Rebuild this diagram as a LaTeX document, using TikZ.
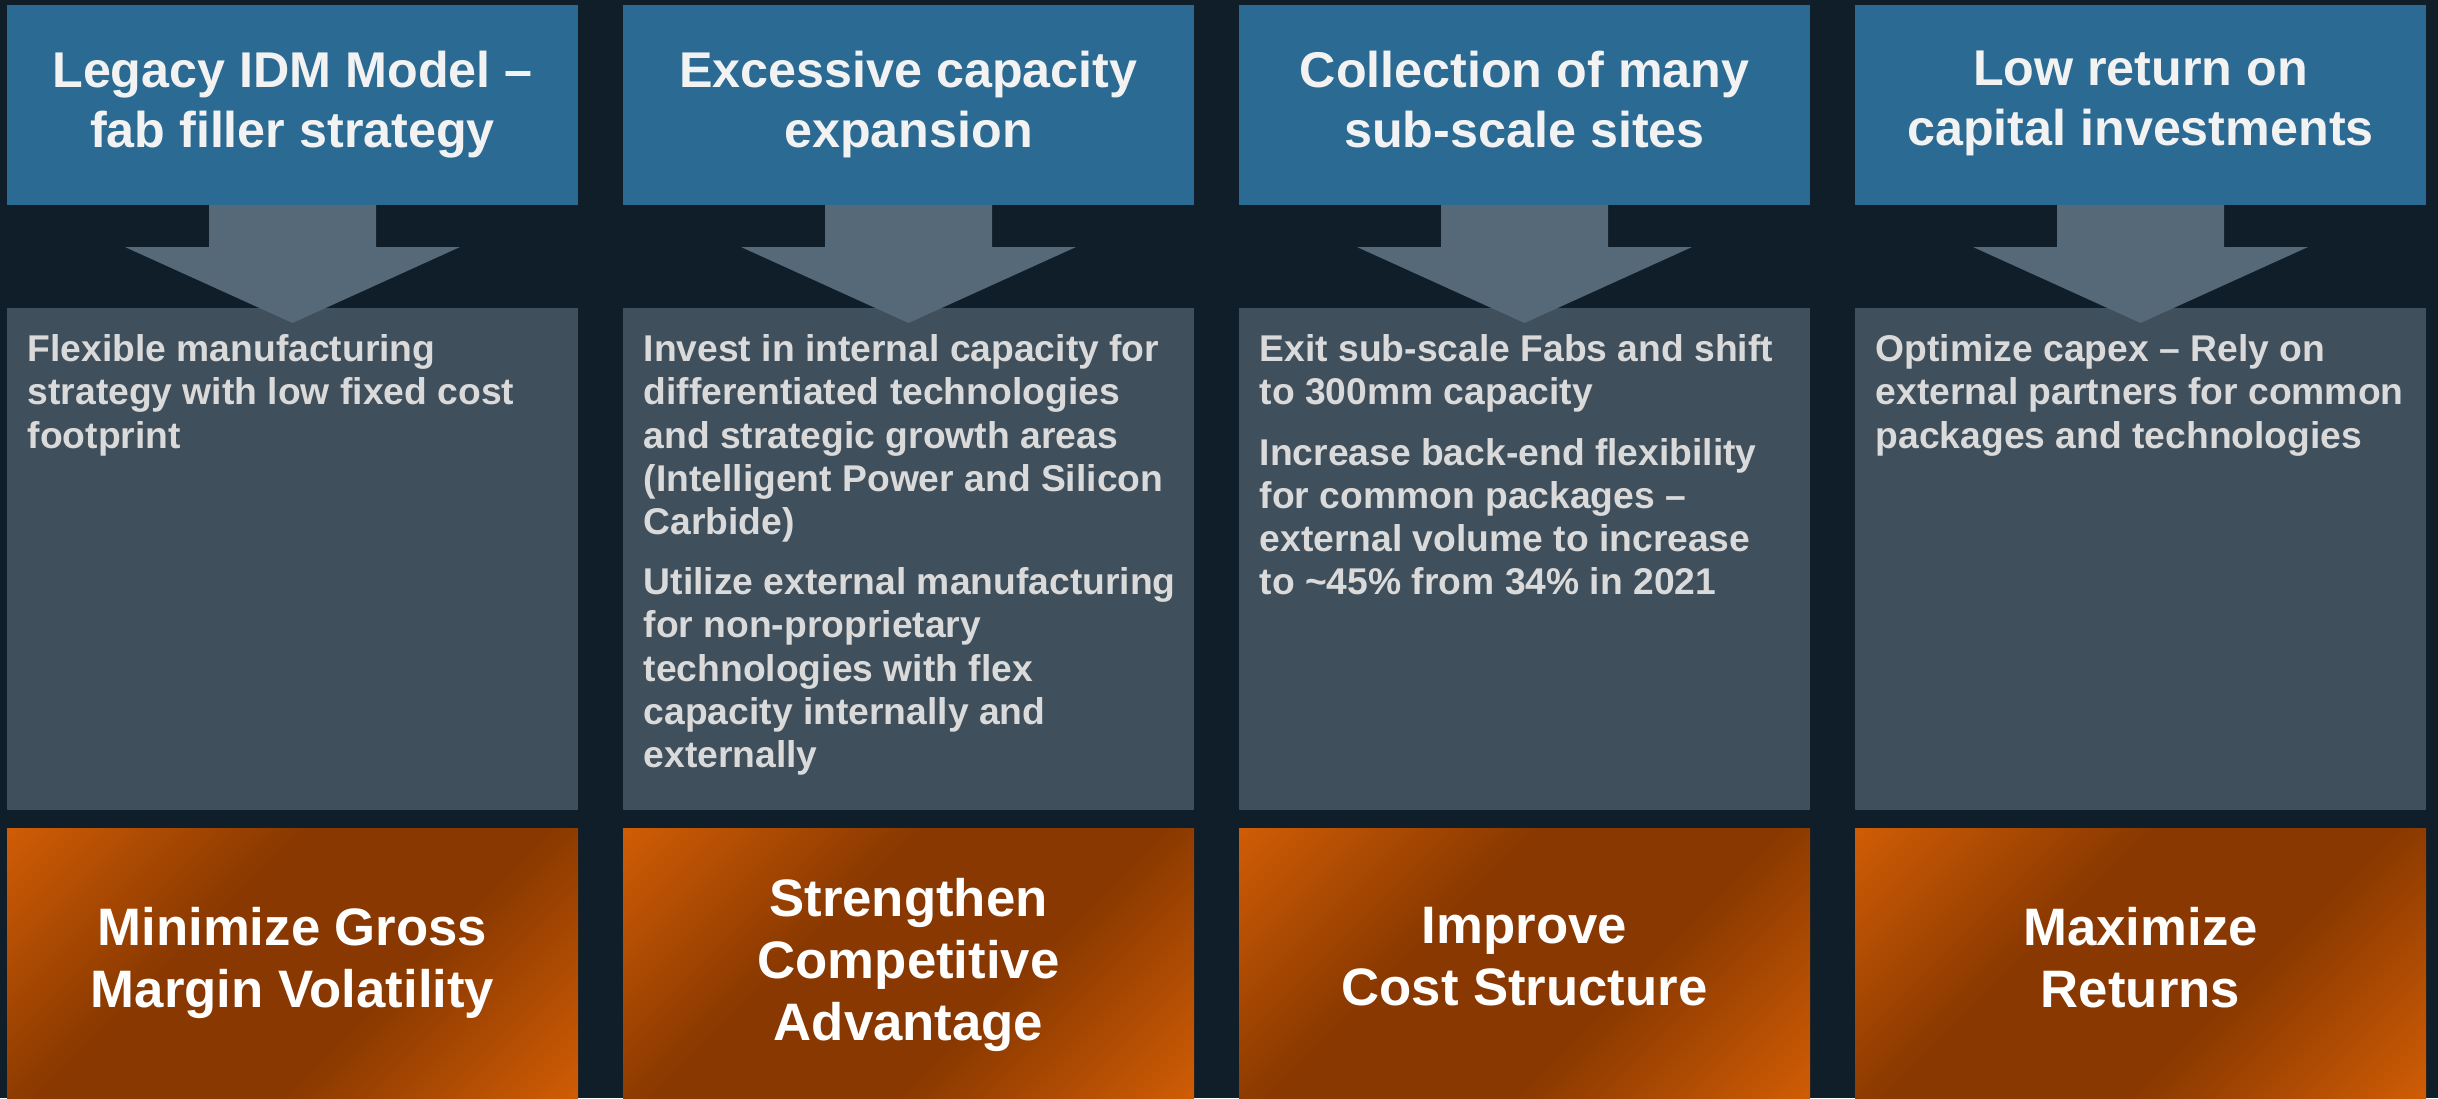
\documentclass[tikz,border=0pt]{standalone}
\usepackage{fontspec}
\setmainfont{Liberation Sans}
\usetikzlibrary{positioning,calc}
\definecolor{pagebg}{HTML}{0F1E28}
\definecolor{headblue}{HTML}{2A6A93}
\definecolor{bodygray}{HTML}{3F4F5B}
\definecolor{arrowgray}{HTML}{566979}
\definecolor{bodytext}{HTML}{DADADA}
\definecolor{headtext}{HTML}{F2F2F2}
\definecolor{goallight}{HTML}{CF5C05}
\definecolor{goaldark}{HTML}{883800}
\pgfdeclareverticalshading{goalband}{100bp}{color(0bp)=(goallight); color(15bp)=(goallight); color(40bp)=(goaldark); color(60bp)=(goaldark); color(85bp)=(goallight); color(100bp)=(goallight)}

\begin{document}
\begin{tikzpicture}[
    x=0.1mm, y=0.1mm,
    node distance=4.5mm,
    panel/.style={rectangle, inner sep=0pt, outer sep=0pt, minimum width=57.1mm},
    headbox/.style={panel, fill=headblue, minimum height=20mm},
    bodybox/.style={panel, fill=bodygray, minimum height=50.2mm},
    goalbox/.style={panel, shade, shading=goalband, shading angle=45, minimum height=27mm},
    headtxt/.style={inner sep=0pt, align=center, text=headtext, font=\fontsize{14.3}{17.1}\selectfont\bfseries},
    bodytxt/.style={inner sep=0pt, align=left, text=bodytext, font=\fontsize{10.6}{12.3}\selectfont\bfseries},
    goaltxt/.style={inner sep=0pt, align=center, text=white, font=\fontsize{15}{17.6}\selectfont\bfseries},
    blockarrow/.style={fill=arrowgray}
]
    \fill[pagebg] (0,0) rectangle (2438,-1098);
    \useasboundingbox (0,0) rectangle (2438,-1098);

    \node[headbox] (legacy) at (292.5,-105) {};
    \node[headbox, right=of legacy] (expansion) {};
    \node[headbox, right=of expansion] (subscale) {};
    \node[headbox, right=of subscale] (lowreturn) {};

    \node[bodybox, below=10.3mm of legacy] (flexible) {};
    \node[bodybox, below=10.3mm of expansion] (invest) {};
    \node[bodybox, below=10.3mm of subscale] (exitfabs) {};
    \node[bodybox, below=10.3mm of lowreturn] (optimize) {};

    \node[goalbox, below=1.8mm of flexible] (minimize) {};
    \node[goalbox, below=1.8mm of invest] (strengthen) {};
    \node[goalbox, below=1.8mm of exitfabs] (improve) {};
    \node[goalbox, below=1.8mm of optimize] (maximize) {};

    \foreach \h in {legacy, expansion, subscale, lowreturn}
        \fill[blockarrow] ($(\h.south)+(-83.5,0)$) -- ++(167,0) -- ++(0,-42) -- ++(84,0)
            -- ($(\h.south)+(0,-118)$) -- ($(\h.south)+(-167.5,-42)$) -- ++(84,0) -- cycle;

    \node[headtxt, below=4.55mm of legacy.north] {Legacy IDM Model –\\fab filler strategy};
    \node[headtxt, below=4.55mm of expansion.north] {Excessive capacity\\expansion};
    \node[headtxt, below=4.55mm of subscale.north] {Collection of many\\sub-scale sites};
    \node[headtxt, below=4.55mm of lowreturn.north] {Low return on\\capital investments};

    \node[bodytxt, below right=2.6mm and 2mm of flexible.north west] {Flexible manufacturing\\strategy with low fixed cost\\footprint};
    \node[bodytxt, below right=2.6mm and 2mm of invest.north west] {Invest in internal capacity for\\differentiated technologies\\and strategic growth areas\\(Intelligent Power and Silicon\\Carbide)\\[4.8pt]Utilize external manufacturing\\for non-proprietary\\technologies with flex\\capacity internally and\\externally};
    \node[bodytxt, below right=2.6mm and 2mm of exitfabs.north west] {Exit sub-scale Fabs and shift\\to 300mm capacity\\[4.8pt]Increase back-end flexibility\\for common packages –\\external volume to increase\\to \textasciitilde45\% from 34\% in 2021};
    \node[bodytxt, below right=2.6mm and 2mm of optimize.north west] {Optimize capex – Rely on\\external partners for common\\packages and technologies};

    \node[goaltxt, below=7.9mm of minimize.north] {Minimize Gross\\Margin Volatility};
    \node[goaltxt, below=5mm of strengthen.north] {Strengthen\\Competitive\\Advantage};
    \node[goaltxt, below=7.9mm of improve.north] {Improve\\Cost Structure};
    \node[goaltxt, below=7.9mm of maximize.north] {Maximize\\Returns};
\end{tikzpicture}
\end{document}
